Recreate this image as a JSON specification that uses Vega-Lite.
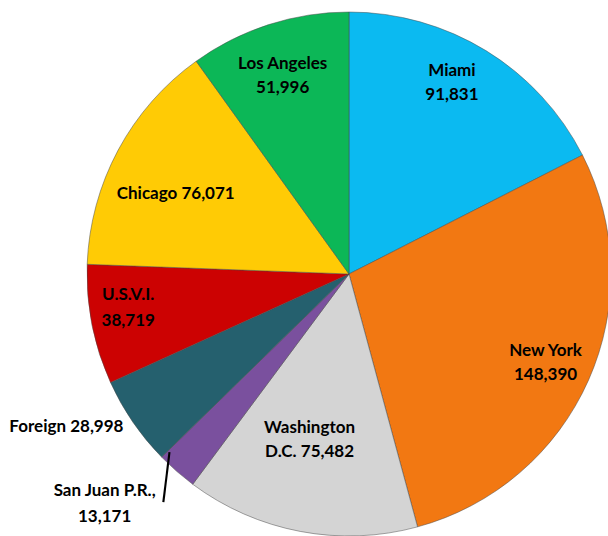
{
  "$schema": "https://vega.github.io/schema/vega-lite/v6.json",
  "width": 518,
  "height": 524,
  "autosize": {"type": "none"},
  "padding": {"left": 90, "top": 12, "right": 0, "bottom": 0},
  "background": "white",
  "view": {"stroke": null},
  "data": {
    "values": [
      {"city": "Miami", "passengers": 91831, "rank": 1, "label": "Miami\n91,831"},
      {"city": "New York", "passengers": 148390, "rank": 2, "label": "New York\n148,390"},
      {"city": "Washington D.C.", "passengers": 75482, "rank": 3, "label": "Washington\nD.C. 75,482"},
      {"city": "San Juan P.R.", "passengers": 13171, "rank": 4, "label": "San Juan P.R.,\n13,171"},
      {"city": "Foreign", "passengers": 28998, "rank": 5, "label": "Foreign 28,998"},
      {"city": "U.S.V.I.", "passengers": 38719, "rank": 6, "label": "U.S.V.I.\n38,719"},
      {"city": "Chicago", "passengers": 76071, "rank": 7, "label": "Chicago 76,071"},
      {"city": "Los Angeles", "passengers": 51996, "rank": 8, "label": "Los Angeles\n51,996"}
    ]
  },
  "encoding": {
    "theta": {"field": "passengers", "type": "quantitative", "stack": true},
    "order": {"field": "rank", "type": "quantitative"},
    "detail": {"field": "city", "type": "nominal"}
  },
  "layer": [
    {
      "mark": {"type": "arc", "outerRadius": 262, "stroke": "#4a4a4a", "strokeWidth": 0.7, "strokeOpacity": 0.7},
      "encoding": {
        "color": {
          "field": "city",
          "type": "nominal",
          "legend": null,
          "scale": {
            "domain": ["Miami", "New York", "Washington D.C.", "San Juan P.R.", "Foreign", "U.S.V.I.", "Chicago", "Los Angeles"],
            "range": ["#0BBAF1", "#F27812", "#D4D4D4", "#7A509E", "#25606E", "#CC0202", "#FFCB05", "#0CB757"]
          }
        }
      }
    },
    {
      "mark": {"type": "text", "radius": 218, "dx": -11, "dy": -17, "font": "Lato", "fontSize": 17, "fontWeight": "bold", "lineBreak": "\n", "lineHeight": 24, "fill": "black", "baseline": "middle"},
      "encoding": {"text": {"condition": {"test": "datum.city === 'Miami'", "field": "label", "type": "nominal"}, "value": ""}}
    },
    {
      "mark": {"type": "text", "radius": 215, "dy": -10, "font": "Lato", "fontSize": 17, "fontWeight": "bold", "lineBreak": "\n", "lineHeight": 24, "fill": "black", "baseline": "middle"},
      "encoding": {"text": {"condition": {"test": "datum.city === 'New York'", "field": "label", "type": "nominal"}, "value": ""}}
    },
    {
      "mark": {"type": "text", "radius": 169, "dx": -8, "dy": -12, "font": "Lato", "fontSize": 17, "fontWeight": "bold", "lineBreak": "\n", "lineHeight": 24, "fill": "black", "baseline": "middle"},
      "encoding": {"text": {"condition": {"test": "datum.city === 'Washington D.C.'", "field": "label", "type": "nominal"}, "value": ""}}
    },
    {
      "mark": {"type": "text", "radius": 300, "dx": -47, "dy": -9, "font": "Lato", "fontSize": 17, "fontWeight": "bold", "lineBreak": "\n", "lineHeight": 26, "fill": "black", "baseline": "middle"},
      "encoding": {"text": {"condition": {"test": "datum.city === 'San Juan P.R.'", "field": "label", "type": "nominal"}, "value": ""}}
    },
    {
      "mark": {"type": "text", "radius": 275, "dx": -2, "dy": -6, "angle": 7, "font": "Open Sans", "fontSize": 50, "fontWeight": 300, "fill": "black", "baseline": "middle"},
      "encoding": {"text": {"condition": {"test": "datum.city === 'San Juan P.R.'", "value": "|"}, "value": ""}}
    },
    {
      "mark": {"type": "text", "radius": 260, "dx": -11, "dy": 6, "align": "right", "font": "Lato", "fontSize": 17, "fontWeight": "bold", "fill": "black", "baseline": "middle"},
      "encoding": {"text": {"condition": {"test": "datum.city === 'Foreign'", "field": "label", "type": "nominal"}, "value": ""}}
    },
    {
      "mark": {"type": "text", "radius": 223, "dx": -2, "dy": -22, "font": "Lato", "fontSize": 17, "fontWeight": "bold", "lineBreak": "\n", "lineHeight": 26, "fill": "black", "baseline": "middle"},
      "encoding": {"text": {"condition": {"test": "datum.city === 'U.S.V.I.'", "field": "label", "type": "nominal"}, "value": ""}}
    },
    {
      "mark": {"type": "text", "radius": 191, "dx": -5, "dy": 10, "font": "Lato", "fontSize": 17, "fontWeight": "bold", "fill": "black", "baseline": "middle"},
      "encoding": {"text": {"condition": {"test": "datum.city === 'Chicago'", "field": "label", "type": "nominal"}, "value": ""}}
    },
    {
      "mark": {"type": "text", "radius": 210, "dx": -2, "dy": -10, "font": "Lato", "fontSize": 17, "fontWeight": "bold", "lineBreak": "\n", "lineHeight": 24, "fill": "black", "baseline": "middle"},
      "encoding": {"text": {"condition": {"test": "datum.city === 'Los Angeles'", "field": "label", "type": "nominal"}, "value": ""}}
    }
  ]
}
